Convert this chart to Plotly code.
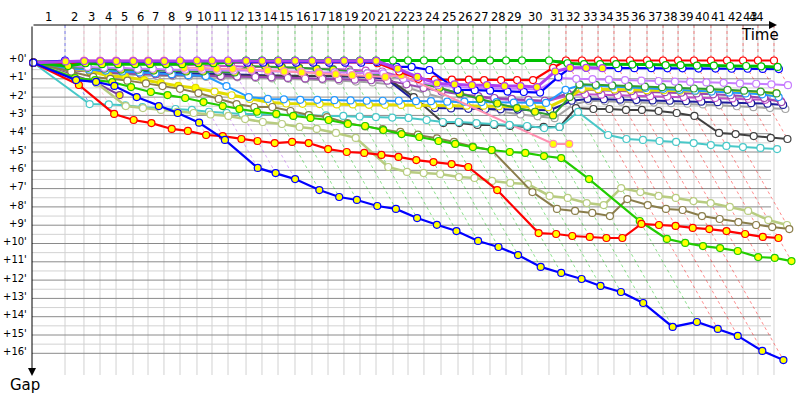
import plotly.graph_objects as go

# leader's lap completion times (minutes after start)
LAP_TIME = [3.19, 5.02, 6.57, 8.12, 9.76, 11.21, 12.75, 14.30, 15.94, 17.39,
            18.94, 20.68, 22.22, 23.77, 25.41, 27.05, 28.60, 30.14, 31.69, 33.24,
            34.88, 36.33, 37.87, 39.52, 41.16, 42.61, 44.25, 45.80, 47.34, 49.95,
            51.59, 53.14, 54.69, 56.23, 57.78, 59.42, 60.97, 62.42, 63.96, 65.60,
            67.15, 68.70, 70.14, 71.69]
LAP_LABELS = [str(i) for i in range(1, 45)]
GAP_TICKS = list(range(0, 17))
START_GAP = 0.12

# gap to leader (minutes) at each lap, per car
gap_red_top = [0.15, 0.1, 0.1, 0.1, 0.1, 0.1, 0.1, 0.1, 0.1, 0.1, 0.1, 0.1, 0.1, 0.1, 0.1, 0.1, 0.1, 0.1, 0.1, 0.15,
               0.6, 1.0, 1.05, 1.05, 1.05, 1.07, 1.07, 1.07, 1.07, 0.4,
               0, 0, 0, 0, 0, 0, 0, 0, 0, 0, 0, 0, 0, 0]
gap_green_top = [0.3, 0.15, 0.2, 0.2, 0.2, 0.2, 0.2, 0.2, 0.15, 0.15, 0.1,
                 0, 0, 0, 0, 0, 0, 0, 0, 0, 0, 0, 0, 0, 0, 0, 0, 0, 0, 0,
                 0.15, 0.2, 0.2, 0.2, 0.22, 0.22, 0.25, 0.25, 0.28, 0.28, 0.3, 0.3, 0.32, 0.35]
gap_violet = [0.05, 0.03, 0.03, 0.03, 0.03, 0.03, 0.03, 0, 0, 0, 0,
              0.02, 0.02, 0.02, 0.02, 0.02, 0.02, 0.02, 0.02, 0.02,
              0.45, 0.9, 1.25, 1.3, 1.35, 1.35, 1.4, 1.4, 1.45, 0.6, 0.4, 0.4, 0.42]
gap_blue_top = [0, 0.12, 0.12, 0.12, 0.12, 0.12, 0.12, 0.12, 0.12, 0.12, 0.12, 0.12, 0.12, 0.12, 0.12,
                0.12, 0.12, 0.12, 0.12, 0.08, 0.35, 0.35, 0.52, 1.6, 1.62, 1.65, 1.7, 1.72, 1.75, 0.9,
                0.4, 0.4, 0.4, 0.42, 0.42, 0.42, 0.43, 0.43, 0.44, 0.44, 0.45, 0.45, 0.46, 0.47]
gap_lilac = [0.3, 0.35, 0.4, 0.4, 0.45, 0.45, 0.5, 0.5, 0.5, 0.55, 0.55, 0.55, 0.6, 0.6, 0.6, 0.65, 0.65,
             0.65, 0.7, 0.7, 1.0, 1.2, 1.35, 1.45, 1.5, 1.5, 1.55, 1.55, 1.6, 0.95,
             1.0, 1.02, 1.05, 1.07, 1.1, 1.12, 1.15, 1.17, 1.2, 1.22, 1.25, 1.27, 1.3, 1.35]
gap_dkgreen = [0.35, 0.4, 0.45, 0.5, 0.5, 0.55, 0.55, 0.6, 0.6, 0.62, 0.65,
               0.3, 0.32, 0.35, 0.4, 0.45, 0.5, 0.6, 0.7, 0.8,
               0.95, 1.2, 1.5, 1.8, 2.1, 2.35, 2.6, 2.8, 3.0, 2.0,
               1.3, 1.33, 1.36, 1.4, 1.43, 1.46, 1.5, 1.53, 1.56, 1.6, 1.65, 1.7, 1.8]
gap_dodger = [0.45, 0.5, 0.55, 0.6, 0.65, 0.7, 0.75, 0.8, 0.85, 1.4, 2.0,
              2.1, 2.12, 2.15, 2.15, 2.17, 2.18, 2.2, 2.2, 2.2, 2.22, 2.22, 2.25, 2.25, 2.27, 2.28,
              2.3, 2.3, 2.32, 1.6, 1.35, 1.38, 1.42, 1.45, 1.5, 1.55, 1.6, 1.65, 1.7, 1.75, 1.8,
              1.85, 2.0]
gap_yellow = [0.4, 0.57, 0.85, 0.9, 1.07, 1.23, 1.39, 1.5, 1.7, 1.9, 2.1, 2.3,
              2.35, 2.37, 2.38, 2.4, 2.4, 2.42, 2.42, 2.43, 2.43, 2.45, 2.45, 2.47, 2.47, 2.5,
              2.5, 2.52, 2.55, 2.0, 1.55, 1.57, 1.58, 1.6, 1.62, 1.63, 1.65, 1.67, 1.68, 1.7,
              1.72, 1.74, 1.78]
gap_purple = [0.5, 0.6, 0.65, 0.7, 0.72, 0.75, 0.78, 0.8, 0.82, 0.85, 0.88, 0.9, 0.92, 0.95, 0.98,
              1.0, 1.02, 1.05, 1.08, 1.1, 1.3, 1.5, 1.7, 1.85, 1.95, 2.05, 2.1, 2.15, 2.2, 1.8,
              1.6, 1.62, 1.65, 1.68, 1.7, 1.73, 1.76, 1.8, 1.85, 1.9, 1.95, 2.05, 2.27]
gap_orchid = [0.2, 0.1, 0.1, 0.15, 0.15, 0.2, 0.2, 0.25, 0.25, 0.3, 0.3, 0.35, 0.35, 0.4, 0.4,
              0.45, 0.45, 0.5, 0.55, 0.6, 0.9, 1.2, 1.5, 1.8, 2.0, 2.1, 2.15, 2.2, 2.25, 1.9,
              1.85, 1.87, 1.9, 1.92, 1.95, 1.97, 2.0, 2.02, 2.05, 2.07, 2.1, 2.15, 2.2]
gap_purple_short = [0.79, 1.23, 1.89]
gap_navy = [0.4, 0.5, 0.55, 0.6, 0.62, 0.65, 0.68, 0.7, 0.72, 0.75, 0.78, 0.8, 0.82, 0.84, 0.85,
            0.86, 0.87, 0.88, 0.9, 1.0, 2.3, 2.6, 2.62, 2.64, 2.65, 2.67, 2.68, 2.7, 2.72, 2.2,
            2.1, 2.12, 2.14, 2.16, 2.18, 2.2, 2.22, 2.25, 2.28, 2.3, 2.33, 2.36, 2.43]
gap_gray = [0.5, 0.6, 0.7, 0.75, 0.8, 0.85, 0.85, 0.88, 0.9, 0.9, 0.92, 0.95, 0.98, 1.0, 1.02,
            1.05, 1.1, 1.15, 1.2, 1.3, 1.5, 1.8, 2.1, 2.4, 2.6, 2.8, 2.95, 3.05, 3.15, 2.4,
            2.2, 2.22, 2.25, 2.28, 2.3, 2.33, 2.36, 2.4, 2.45, 2.5, 2.55, 2.6, 2.65]
gap_black = [0.5, 0.6, 0.65, 0.7, 0.72, 0.75, 0.78, 0.8, 0.8, 0.82, 0.82, 0.83, 0.84, 0.84, 0.85,
             0.85, 0.85, 0.86, 0.86, 0.85, 2.0, 3.42, 3.42, 3.52, 3.52, 3.58, 3.63, 3.63, 3.63, 2.6,
             2.65, 2.65, 2.7, 2.7, 2.76, 2.87, 3.03, 3.96, 4.02, 4.13, 4.23, 4.29]
gap_pink = [0.25, 0, 0, 0, 0, 0, 0, 0.4, 0.4, 0.45, 0.45, 0.5, 0.55, 0.6, 0.65,
            0.7, 0.75, 0.8, 0.85, 0.9, 0.8, None, None, None, None, None, None, 4.56, 4.56]
gap_cyan = [2.38, 2.4, 2.45, 2.55, 2.6, 2.65, 2.7, 2.8, 2.87, 2.92, 2.92, 2.95, 2.98, 2.98, 3.0,
            3.03, 3.06, 3.09, 3.12, 3.14, 3.25, 3.36, 3.36, 3.42, 3.47, 3.52, 3.58, 3.69, 3.63, 2.81,
            4.07, 4.29, 4.34, 4.4, 4.45, 4.51, 4.62, 4.67, 4.73, 4.78, 4.84]
gap_olive_light = [0.9, 1.25, 2.49, 2.6, 2.7, 2.81, 2.87, 2.95, 3.03, 3.2, 3.36, 3.47, 3.63, 3.74,
                   3.96, 4.23, 5.82, 6.09, 6.15, 6.2, 6.37, 6.42, 6.58, 6.69, 6.75, 7.4, 7.51, 7.79,
                   7.9, 6.97, 7.19, 7.4, 7.51, 7.68, 7.79, 8.0, 8.22, 8.72, 8.99]
gap_olive_dark = [0.6, 0.9, 1.0, 1.1, 1.25, 1.4, 1.55, 1.78, 2.1, 2.38, 2.54, 2.54, 2.76, 2.98,
                  3.09, 3.42, 3.6, 3.75, 3.9, 4.05, 4.25, 4.45, 4.7, 4.9, 7.19, 8.11, 8.22, 8.33,
                  8.5, 7.57, 7.9, 8.11, 8.17, 8.5, 8.66, 8.83, 8.99, 9.1, 9.21]
gap_green_low = [0.96, 1.07, 1.18, 1.45, 1.72, 1.89, 2.05, 2.27, 2.49, 2.65, 2.8, 2.92, 3.03, 3.14,
                 3.25, 3.47, 3.58, 3.8, 4.02, 4.18, 4.4, 4.56, 4.73, 4.89, 5.0, 5.05, 5.22, 5.33,
                 6.48, 8.77, 9.75, 9.97, 10.14, 10.25, 10.41, 10.74, 10.79, 10.96]
gap_red_low = [1.34, 2.92, 3.25, 3.42, 3.74, 3.85, 4.07, 4.13, 4.29, 4.40, 4.51, 4.45, 4.51, 4.84,
               5.0, 5.05, 5.16, 5.27, 5.44, 5.55, 5.66, 5.82, 7.08, 9.43, 9.48, 9.59, 9.64, 9.70,
               9.70, 8.93, 8.99, 9.04, 9.15, 9.21, 9.32, 9.48, 9.64, 9.70]
gap_blue_low = [1.07, 1.17, 1.39, 2.0, 2.49, 2.87, 3.4, 4.34, 5.87, 6.15, 6.48, 7.08, 7.46, 7.62,
                7.95, 8.11, 8.61, 8.98, 9.32, 9.86, 10.19, 10.63, 11.28, 11.61, 11.94, 12.32,
                12.65, 13.25, 14.56, 14.29, 14.67, 15.05, 15.87, 16.37]

# name, colour, line width, gaps, last lap drawn with yellow markers
SERIES = [
    ("gray", "#a4a4a4", 2, gap_gray, 0),
    ("navy", "#1c1c9c", 2, gap_navy, 0),
    ("black", "#404040", 2, gap_black, 0),
    ("orchid", "#c050c8", 2, gap_orchid, 0),
    ("purple", "#9a46b0", 2, gap_purple, 0),
    ("purple2", "#7a3c9a", 2, gap_purple_short, 3),
    ("yellow", "#e2dc00", 3, gap_yellow, 8),
    ("dodger", "#2299ff", 2, gap_dodger, 0),
    ("dkgreen", "#2f9f2f", 2, gap_dkgreen, 29),
    ("lilac", "#c77dff", 2, gap_lilac, 0),
    ("pink", "#ff8fb0", 2, gap_pink, 29),
    ("cyan", "#48c8c8", 2, gap_cyan, 0),
    ("olive_light", "#b8cc80", 2.5, gap_olive_light, 0),
    ("olive_dark", "#8a7d4a", 2, gap_olive_dark, 0),
    ("red_top", "#ff0000", 2.2, gap_red_top, 0),
    ("blue_top", "#0000ff", 2.2, gap_blue_top, 1),
    ("green_top", "#00c000", 3, gap_green_top, 20),
    ("violet", "#b040f0", 3, gap_violet, 33),
    ("green_low", "#22cc00", 2.2, gap_green_low, 99),
    ("red_low", "#ff0000", 2.2, gap_red_low, 99),
    ("blue_low", "#0000ff", 2.2, gap_blue_low, 99),
]

# pixel geometry of the original chart (x: 10.35 px/min, y: 18.3 px/min)
X0_PX, XS = 32, 10.35
Y0_PX, YS = 60.5, 18.3
def tx(px): return (px - X0_PX) / XS
def ty(py): return (py - Y0_PX) / YS

AX_TOP = ty(25)
AX_BOTTOM = ty(375)
GRID_RIGHT = tx(771)


def rgba(hexcol, a):
    h = hexcol.lstrip("#")
    return f"rgba({int(h[0:2], 16)},{int(h[2:4], 16)},{int(h[4:6], 16)},{a})"


fig = go.Figure()

# minor / major horizontal grid, vertical lap grid
mx, my = [], []
for k in GAP_TICKS[:-1]:
    mx += [0, GRID_RIGHT, None]
    my += [k + 0.5, k + 0.5, None]
fig.add_trace(go.Scatter(x=mx, y=my, mode="lines", line=dict(color="#d2d2d2", width=1),
                         hoverinfo="skip", showlegend=False))
vx, vy = [], []
for t in LAP_TIME:
    vx += [t, t, None]
    vy += [AX_TOP, AX_BOTTOM, None]
fig.add_trace(go.Scatter(x=vx, y=vy, mode="lines", line=dict(color="#d2d2d2", width=1),
                         hoverinfo="skip", showlegend=False))
Mx, My = [], []
for k in GAP_TICKS:
    Mx += [0, GRID_RIGHT, None]
    My += [k, k, None]
fig.add_trace(go.Scatter(x=Mx, y=My, mode="lines", line=dict(color="#8a8a8a", width=1),
                         hoverinfo="skip", showlegend=False))

# iso-lap dashed lines down to the last car of that lap, coloured by the lap leader
for i, t in enumerate(LAP_TIME):
    lead, last = None, 0
    for name, col, w, gaps, ylap in SERIES:
        if i < len(gaps) and gaps[i] is not None:
            if lead is None or gaps[i] < lead[0]:
                lead = (gaps[i], col)
            last = max(last, gaps[i])
    fig.add_trace(go.Scatter(
        x=[t, t, t + last], y=[AX_TOP, 0, last], mode="lines",
        line=dict(color=rgba(lead[1], 0.45), width=1, dash="3px,3px"),
        hoverinfo="skip", showlegend=False))

# cars
for name, col, w, gaps, ylap in SERIES:
    times = [0] + LAP_TIME[:len(gaps)]
    gg = [START_GAP] + gaps
    xs = [None if g is None else t + g for t, g in zip(times, gg)]
    fills = ["#ffff00" if 0 < n <= ylap else "#ffffff" for n in range(len(gg))]
    fig.add_trace(go.Scatter(
        x=xs, y=gg, mode="lines+markers", name=name, connectgaps=True,
        line=dict(color=col, width=w),
        marker=dict(size=7, color=fills, line=dict(color=col, width=1.2)),
        hoverinfo="skip", showlegend=False))

ann = []
# axes with arrows
ann.append(dict(x=tx(777), y=AX_TOP, ax=0, ay=AX_TOP, xref="x", yref="y", axref="x", ayref="y",
                text="", showarrow=True, arrowhead=2, arrowsize=1.6, arrowwidth=1, arrowcolor="black"))
ann.append(dict(x=0, y=ty(376), ax=0, ay=AX_TOP, xref="x", yref="y", axref="x", ayref="y",
                text="", showarrow=True, arrowhead=2, arrowsize=1.6, arrowwidth=1, arrowcolor="black"))
ann.append(dict(x=tx(760), y=ty(35), text="Time", showarrow=False,
                font=dict(family="DejaVu Sans", size=15, color="black")))
ann.append(dict(x=tx(25), y=ty(385), text="Gap", showarrow=False,
                font=dict(family="DejaVu Sans", size=15, color="black")))

# lap labels centred in each lap interval
prev = 0
for t, lab in zip(LAP_TIME, LAP_LABELS):
    mid = min((prev + t) / 2, tx(756))
    ann.append(dict(x=mid, y=ty(17), text=lab, showarrow=False,
                    font=dict(family="DejaVu Sans", size=11.5, color="black")))
    prev = t

for k in GAP_TICKS:
    ann.append(dict(x=tx(29), y=k - 0.1, text=f"+{k}'", showarrow=False, xanchor="right",
                    font=dict(family="DejaVu Sans", size=10, color="black")))

fig.update_layout(
    width=800, height=400,
    margin=dict(l=0, r=0, t=0, b=0),
    paper_bgcolor="white", plot_bgcolor="white",
    xaxis=dict(range=[tx(0), tx(800)], visible=False, fixedrange=True),
    yaxis=dict(range=[ty(400), ty(0)], visible=False, fixedrange=True),
    annotations=ann,
    showlegend=False,
)

fig.write_html("out.html", config={"displayModeBar": False},
               post_script="document.body.style.margin='0';")
